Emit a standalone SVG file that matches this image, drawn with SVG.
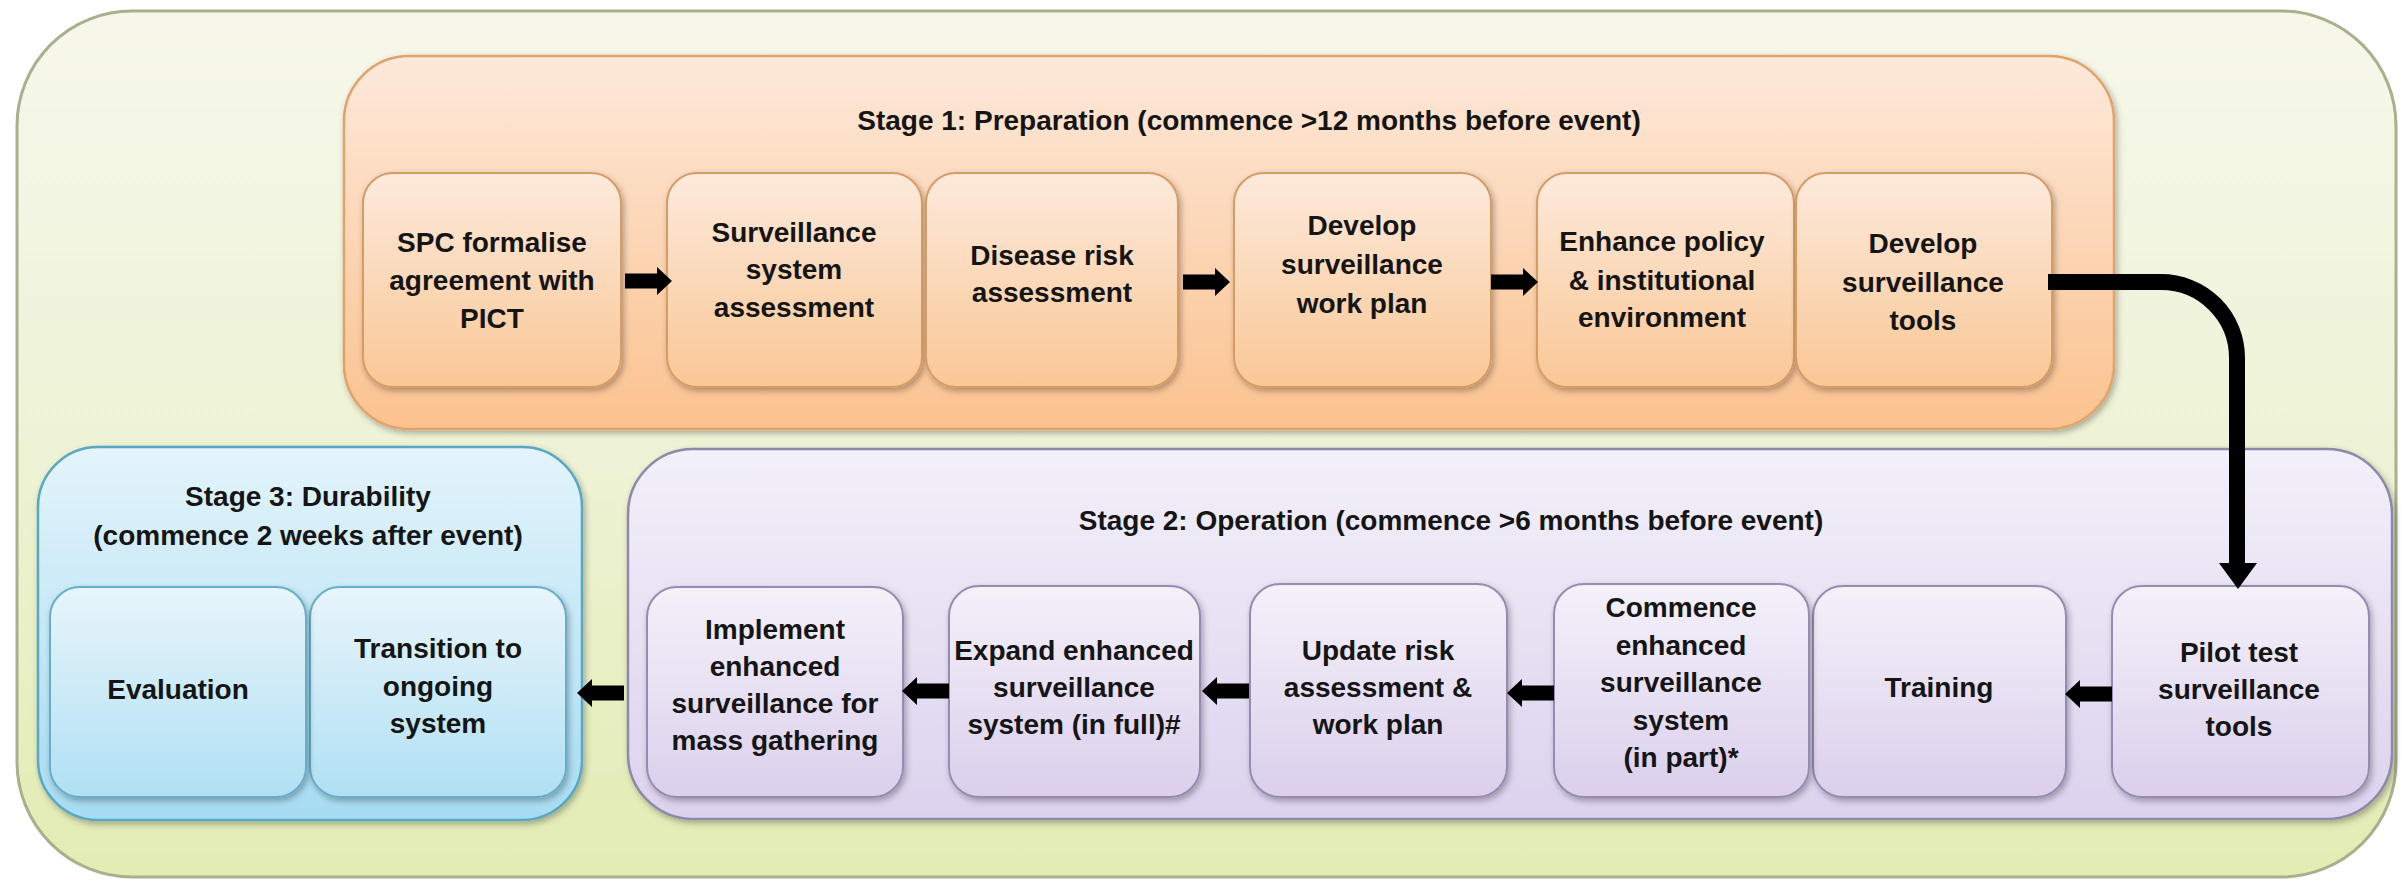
<svg xmlns="http://www.w3.org/2000/svg" xmlns:xlink="http://www.w3.org/1999/xlink" width="2402" height="885" viewBox="0 0 2402 885">
<style>
text{font-family:"Liberation Sans",Arial,sans-serif;font-weight:bold;font-size:28px;fill:#151515;text-anchor:middle}
.outer{fill:url(#gOuter);stroke:#a9b08e;stroke-width:3}
.s1{fill:url(#gS1);stroke:#e0a36a;stroke-width:2.5;filter:url(#sh)}
.s2{fill:url(#gS2);stroke:#8f88a8;stroke-width:2.5;filter:url(#sh)}
.s3{fill:url(#gS3);stroke:#5aa6c6;stroke-width:2.5;filter:url(#sh)}
.n1{fill:url(#gN1);stroke:#d59c66;stroke-width:2;filter:url(#sh)}
.n2{fill:url(#gN2);stroke:#968cb2;stroke-width:2;filter:url(#sh)}
.n3{fill:url(#gN3);stroke:#66aecb;stroke-width:2;filter:url(#sh)}
.arr{fill:#000}
.line{fill:none;stroke:#000;stroke-width:16}
</style>
<defs>
<linearGradient id="gOuter" x1="0" y1="0" x2="0" y2="1"><stop offset="0" stop-color="#f6f7ea"/><stop offset="0.5" stop-color="#eef3d6"/><stop offset="1" stop-color="#e2ecb3"/></linearGradient>
<linearGradient id="gS1" x1="0" y1="0" x2="0" y2="1"><stop offset="0" stop-color="#fde9da"/><stop offset="1" stop-color="#fbc28f"/></linearGradient>
<linearGradient id="gS2" x1="0" y1="0" x2="0" y2="1"><stop offset="0" stop-color="#f2f0f9"/><stop offset="1" stop-color="#dcd2ee"/></linearGradient>
<linearGradient id="gS3" x1="0" y1="0" x2="0" y2="1"><stop offset="0" stop-color="#e4f4fb"/><stop offset="1" stop-color="#a6dcf2"/></linearGradient>
<linearGradient id="gN1" x1="0" y1="0" x2="0" y2="1"><stop offset="0" stop-color="#fdeadc"/><stop offset="1" stop-color="#f9c795"/></linearGradient>
<linearGradient id="gN2" x1="0" y1="0" x2="0" y2="1"><stop offset="0" stop-color="#f4f1f9"/><stop offset="1" stop-color="#dbcfec"/></linearGradient>
<linearGradient id="gN3" x1="0" y1="0" x2="0" y2="1"><stop offset="0" stop-color="#e8f5fb"/><stop offset="1" stop-color="#b0e0f3"/></linearGradient>
<filter id="sh" x="-10%" y="-10%" width="120%" height="125%"><feDropShadow dx="2" dy="3" stdDeviation="3" flood-color="#000" flood-opacity="0.3"/></filter>
<path id="arrR" d="M0,-7.5 H32 V-14 L47,0 L32,14 V7.5 H0 Z"/>
<path id="arrL" d="M0,-7.5 H-32 V-14 L-47,0 L-32,14 V7.5 H0 Z"/>
</defs>

<g id="frame">
<rect class="outer" x="17" y="11" width="2379" height="866" rx="115" ry="115"/>
</g>

<g id="stage1">
<rect class="s1" x="344" y="56" width="1770" height="373" rx="65" ry="65"/>
<text x="1249" y="130">Stage 1: Preparation (commence &gt;12 months before event)</text>
</g>

<g id="stage2">
<rect class="s2" x="628" y="449" width="1764" height="370" rx="65" ry="65"/>
<text x="1451" y="530">Stage 2: Operation (commence &gt;6 months before event)</text>
</g>

<g id="stage3">
<rect class="s3" x="38" y="447" width="544" height="373" rx="60" ry="60"/>
<text x="308" y="506">Stage 3: Durability</text>
<text x="308" y="545">(commence 2 weeks after event)</text>
</g>

<g id="n-spc">
<rect class="n1" x="363" y="173" width="258" height="214" rx="30"/>
<text x="492" y="252">SPC formalise</text>
<text x="492" y="290">agreement with</text>
<text x="492" y="328">PICT</text>
</g>
<g id="n-sysassess">
<rect class="n1" x="667" y="173" width="255" height="214" rx="30"/>
<text x="794" y="242">Surveillance</text>
<text x="794" y="279">system</text>
<text x="794" y="317">assessment</text>
</g>
<g id="n-disease">
<rect class="n1" x="926" y="173" width="252" height="214" rx="30"/>
<text x="1052" y="265">Disease risk</text>
<text x="1052" y="302">assessment</text>
</g>
<g id="n-workplan">
<rect class="n1" x="1234" y="173" width="257" height="214" rx="30"/>
<text x="1362" y="235">Develop</text>
<text x="1362" y="274">surveillance</text>
<text x="1362" y="313">work plan</text>
</g>
<g id="n-policy">
<rect class="n1" x="1537" y="173" width="257" height="214" rx="30"/>
<text x="1662" y="251">Enhance policy</text>
<text x="1662" y="290">&amp; institutional</text>
<text x="1662" y="327">environment</text>
</g>
<g id="n-tools">
<rect class="n1" x="1796" y="173" width="256" height="214" rx="30"/>
<text x="1923" y="253">Develop</text>
<text x="1923" y="292">surveillance</text>
<text x="1923" y="330">tools</text>
</g>

<g id="n-pilot">
<rect class="n2" x="2112" y="586" width="257" height="211" rx="30"/>
<text x="2239" y="662">Pilot test</text>
<text x="2239" y="699">surveillance</text>
<text x="2239" y="736">tools</text>
</g>
<g id="n-training">
<rect class="n2" x="1813" y="586" width="253" height="211" rx="30"/>
<text x="1939" y="697">Training</text>
</g>
<g id="n-commence">
<rect class="n2" x="1554" y="584" width="255" height="213" rx="30"/>
<text x="1681" y="617">Commence</text>
<text x="1681" y="655">enhanced</text>
<text x="1681" y="692">surveillance</text>
<text x="1681" y="730">system</text>
<text x="1681" y="767">(in part)*</text>
</g>
<g id="n-update">
<rect class="n2" x="1250" y="584" width="257" height="213" rx="30"/>
<text x="1378" y="660">Update risk</text>
<text x="1378" y="697">assessment &amp;</text>
<text x="1378" y="734">work plan</text>
</g>
<g id="n-expand">
<rect class="n2" x="949" y="586" width="251" height="211" rx="30"/>
<text x="1074" y="660">Expand enhanced</text>
<text x="1074" y="697">surveillance</text>
<text x="1074" y="734">system (in full)#</text>
</g>
<g id="n-implement">
<rect class="n2" x="647" y="587" width="256" height="210" rx="30"/>
<text x="775" y="639">Implement</text>
<text x="775" y="676">enhanced</text>
<text x="775" y="713">surveillance for</text>
<text x="775" y="750">mass gathering</text>
</g>

<g id="n-transition">
<rect class="n3" x="310" y="587" width="256" height="210" rx="30"/>
<text x="438" y="658">Transition to</text>
<text x="438" y="696">ongoing</text>
<text x="438" y="733">system</text>
</g>
<g id="n-evaluation">
<rect class="n3" x="50" y="587" width="256" height="210" rx="30"/>
<text x="178" y="699">Evaluation</text>
</g>

<g id="connectors">
<use href="#arrR" class="arr" x="625" y="281"/>
<use href="#arrR" class="arr" x="1183" y="282"/>
<use href="#arrR" class="arr" x="1491" y="282"/>
<path class="line" d="M2048,282 H2161 A76,76 0 0 1 2237,358 V566"/>
<polygon class="arr" points="2219,563 2257,563 2238,589"/>
<use href="#arrL" class="arr" x="2112" y="694"/>
<use href="#arrL" class="arr" x="1554" y="693"/>
<use href="#arrL" class="arr" x="1249" y="691"/>
<use href="#arrL" class="arr" x="949" y="691"/>
<use href="#arrL" class="arr" x="624" y="693"/>
</g>
</svg>
